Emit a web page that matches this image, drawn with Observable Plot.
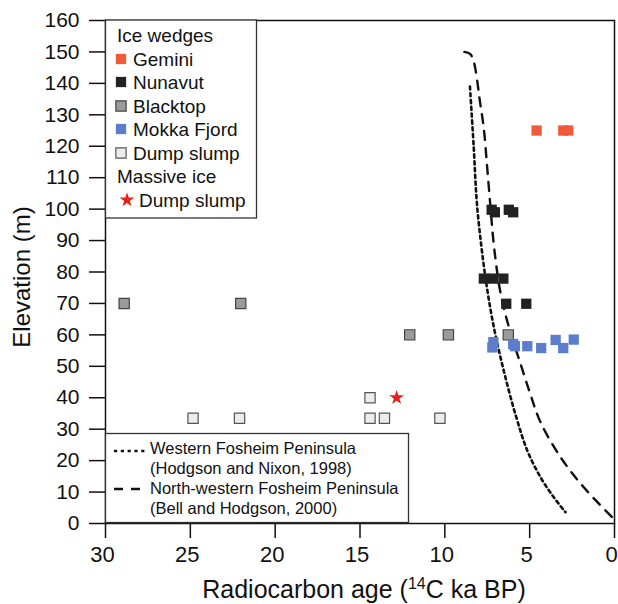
<!DOCTYPE html>
<html>
<head>
<meta charset="utf-8">
<script src="https://cdn.jsdelivr.net/npm/d3@7"></script>
<script src="https://cdn.jsdelivr.net/npm/@observablehq/plot@0.6"></script>
<style>
  html, body { margin: 0; padding: 0; background: #fff; }
</style>
</head>
<body>
<div id="chart"></div>
<script>
// ---- Data (radiocarbon age in 14C ka BP, elevation in m) ----
const geminiAge = [4.59, 3.02, 2.73];
const geminiElev = [125, 125, 125];

const nunavutAge = [7.24, 7.05, 6.23, 5.97, 7.70, 7.17, 6.55, 6.38, 5.2];
const nunavutElev = [99.8, 99.0, 99.8, 99.0, 77.9, 77.9, 77.9, 69.9, 69.9];

const blacktopAge = [28.9, 22.03, 12.07, 9.79, 6.26];
const blacktopElev = [70, 70, 60, 60, 60];

const mokkaAge = [7.14, 7.2, 5.97, 5.87, 5.14, 4.32, 3.47, 3.02, 2.4];
const mokkaElev = [57.7, 56, 57.1, 56.4, 56.4, 55.8, 58.4, 55.8, 58.5];

const dumpAge = [24.84, 22.1, 14.41, 14.41, 13.56, 10.29];
const dumpElev = [33.5, 33.5, 40, 33.5, 33.5, 33.5];

const massiveAge = [12.84];
const massiveElev = [40];

// Western Fosheim Peninsula (Hodgson and Nixon, 1998) – dotted
const westAge = [8.52, 8.3, 8.09, 7.6, 7.11, 6.5, 5.8, 5.14, 4.36, 3.6, 2.89];
const westElev = [139, 120, 100.6, 78, 62.4, 48, 34, 23.2, 14.7, 8.5, 3.6];

// North-western Fosheim Peninsula (Bell and Hodgson, 2000) – dashed
const nwAge = [8.85, 8.5, 8.3, 8.15, 7.95, 7.7, 7.5, 7.3, 7.1, 6.71, 6.22, 5.54, 4.95, 4.36, 3.18, 1.81, 0.14];
const nwElev = [150, 149.3, 147, 143, 135, 125.5, 113, 100, 88, 73.1, 62.4, 50.8, 41, 32.2, 21.1, 11.5, 2];

const xTicks = [30, 25, 20, 15, 10, 5, 0];
const yTicks = [0, 10, 20, 30, 40, 50, 60, 70, 80, 90, 100, 110, 120, 130, 140, 150, 160];

const iceWedgeLabels = ["Gemini", "Nunavut", "Blacktop", "Mokka Fjord", "Dump slump"];
const massiveLabels = ["Dump slump"];
const curveLabels = [
  ["Western Fosheim Peninsula", "(Hodgson and Nixon, 1998)"],
  ["North-western Fosheim Peninsula", "(Bell and Hodgson, 2000)"]
];

// ---- Styles ----
const styles = {
  Gemini: {fill: "#f05a3a", stroke: "none"},
  Nunavut: {fill: "#222222", stroke: "none"},
  Blacktop: {fill: "#9b9b9b", stroke: "#444"},
  "Mokka Fjord": {fill: "#5b7dcc", stroke: "none"},
  "Dump slump": {fill: "#ececec", stroke: "#555"}
};

const zip = (xs, ys) => xs.map((x, i) => ({age: x, elev: ys[i]}));
const gemini = zip(geminiAge, geminiElev);
const nunavut = zip(nunavutAge, nunavutElev);
const blacktop = zip(blacktopAge, blacktopElev);
const mokka = zip(mokkaAge, mokkaElev);
const dump = zip(dumpAge, dumpElev);
const massive = zip(massiveAge, massiveElev);
const west = zip(westAge, westElev);
const nw = zip(nwAge, nwElev);

const R = 5.8;
const sq = (data, name) => Plot.dot(data, {
  x: "age", y: "elev", symbol: "square", r: R,
  fill: styles[name].fill, stroke: styles[name].stroke, strokeWidth: 1.2
});

const font = "'Liberation Sans', Arial, Helvetica, sans-serif";

const plot = Plot.plot({
  width: 618,
  height: 604,
  marginLeft: 105,
  marginRight: 4,
  marginTop: 20,
  marginBottom: 81,
  style: {fontFamily: font, color: "#111", background: "#fff"},
  x: {domain: [30, 0]},
  y: {domain: [0, 160]},
  marks: [
    Plot.line(west, {x: "age", y: "elev", curve: "catmull-rom", stroke: "#111", strokeWidth: 2.6, strokeDasharray: "3.2,3.6"}),
    Plot.line(nw, {x: "age", y: "elev", curve: "catmull-rom", stroke: "#111", strokeWidth: 2.4, strokeDasharray: "9,8"}),
    sq(blacktop, "Blacktop"),
    sq(dump, "Dump slump"),
    sq(mokka, "Mokka Fjord"),
    sq(nunavut, "Nunavut"),
    sq(gemini, "Gemini"),
    Plot.dot(massive, {x: "age", y: "elev", symbol: "star", r: 4.6, fill: "#e8201c", stroke: "none"}),
    Plot.frame({stroke: "#111", strokeWidth: 1.5}),
    Plot.axisX({ticks: xTicks, tickSize: 15, tickPadding: 8, fontSize: 22, label: null, strokeWidth: 1.5}),
    Plot.axisY({ticks: yTicks, tickSize: 16, tickPadding: 10, fontSize: 21, label: null, strokeWidth: 1.5})
  ]
});

document.getElementById("chart").appendChild(plot);

// ---- Overlays: axis titles and legends ----
const svg = d3.select(plot);

// nudge x tick labels slightly left, as in the reference
svg.selectAll('g[aria-label="x-axis tick label"] text').attr("dx", -3);

// X axis title with superscript
const xt = svg.append("text")
  .attr("x", 364).attr("y", 598)
  .attr("text-anchor", "middle")
  .attr("font-size", 25)
  .attr("fill", "#111");
xt.append("tspan").text("Radiocarbon age (");
xt.append("tspan").attr("font-size", 16).attr("dy", -9).text("14");
xt.append("tspan").attr("dy", 9).text("C ka BP)");

// Y axis title
svg.append("text")
  .attr("transform", "translate(30,277) rotate(-90)")
  .attr("text-anchor", "middle")
  .attr("font-size", 24)
  .attr("fill", "#111")
  .text("Elevation (m)");

// Top legend
const lg = svg.append("g").attr("font-size", 19).attr("fill", "#111").attr("text-anchor", "start");
lg.append("rect")
  .attr("x", 105.5).attr("y", 20).attr("width", 151).attr("height", 198)
  .attr("fill", "#fff").attr("stroke", "#333").attr("stroke-width", 1.3);
lg.append("text").attr("x", 117).attr("y", 42).text("Ice wedges");
const rowY = [59, 82, 106, 129, 153];
iceWedgeLabels.forEach((name, i) => {
  const s = styles[name];
  lg.append("path")
    .attr("d", d3.symbol(d3.symbolSquare, Math.PI * R * R)())
    .attr("transform", `translate(121,${rowY[i]})`)
    .attr("fill", s.fill).attr("stroke", s.stroke).attr("stroke-width", 1.2);
  lg.append("text").attr("x", 133).attr("y", rowY[i] + 7).text(name);
});
lg.append("text").attr("x", 117).attr("y", 183).text("Massive ice");
massiveLabels.forEach((name, i) => {
  lg.append("path")
    .attr("d", d3.symbol(d3.symbolStar, Math.PI * 4.6 * 4.6)())
    .attr("transform", `translate(127,${200 + i * 23})`)
    .attr("fill", "#e8201c");
  lg.append("text").attr("x", 139).attr("y", 207 + i * 23).text(name);
});

// Bottom legend (curves)
const lb = svg.append("g").attr("font-size", 16.5).attr("fill", "#111").attr("text-anchor", "start");
lb.append("rect")
  .attr("x", 105.5).attr("y", 433.5).attr("width", 303).attr("height", 89)
  .attr("fill", "#fff").attr("stroke", "#333").attr("stroke-width", 1.3);
const dashes = ["3.2,3.6", "9,8"];
const widths = [2.6, 2.4];
const lineEnds = [146, 141];
curveLabels.forEach((lines, i) => {
  const y0 = 448 + i * 40;
  lb.append("line")
    .attr("x1", 114).attr("x2", lineEnds[i])
    .attr("y1", y0 + (i === 0 ? 3 : 1)).attr("y2", y0 + (i === 0 ? 3 : 1))
    .attr("stroke", "#111").attr("stroke-width", widths[i])
    .attr("stroke-dasharray", dashes[i]);
  lines.forEach((t, j) => {
    lb.append("text").attr("x", 150).attr("y", y0 + 6 + j * 20).text(t);
  });
});
</script>
</body>
</html>
